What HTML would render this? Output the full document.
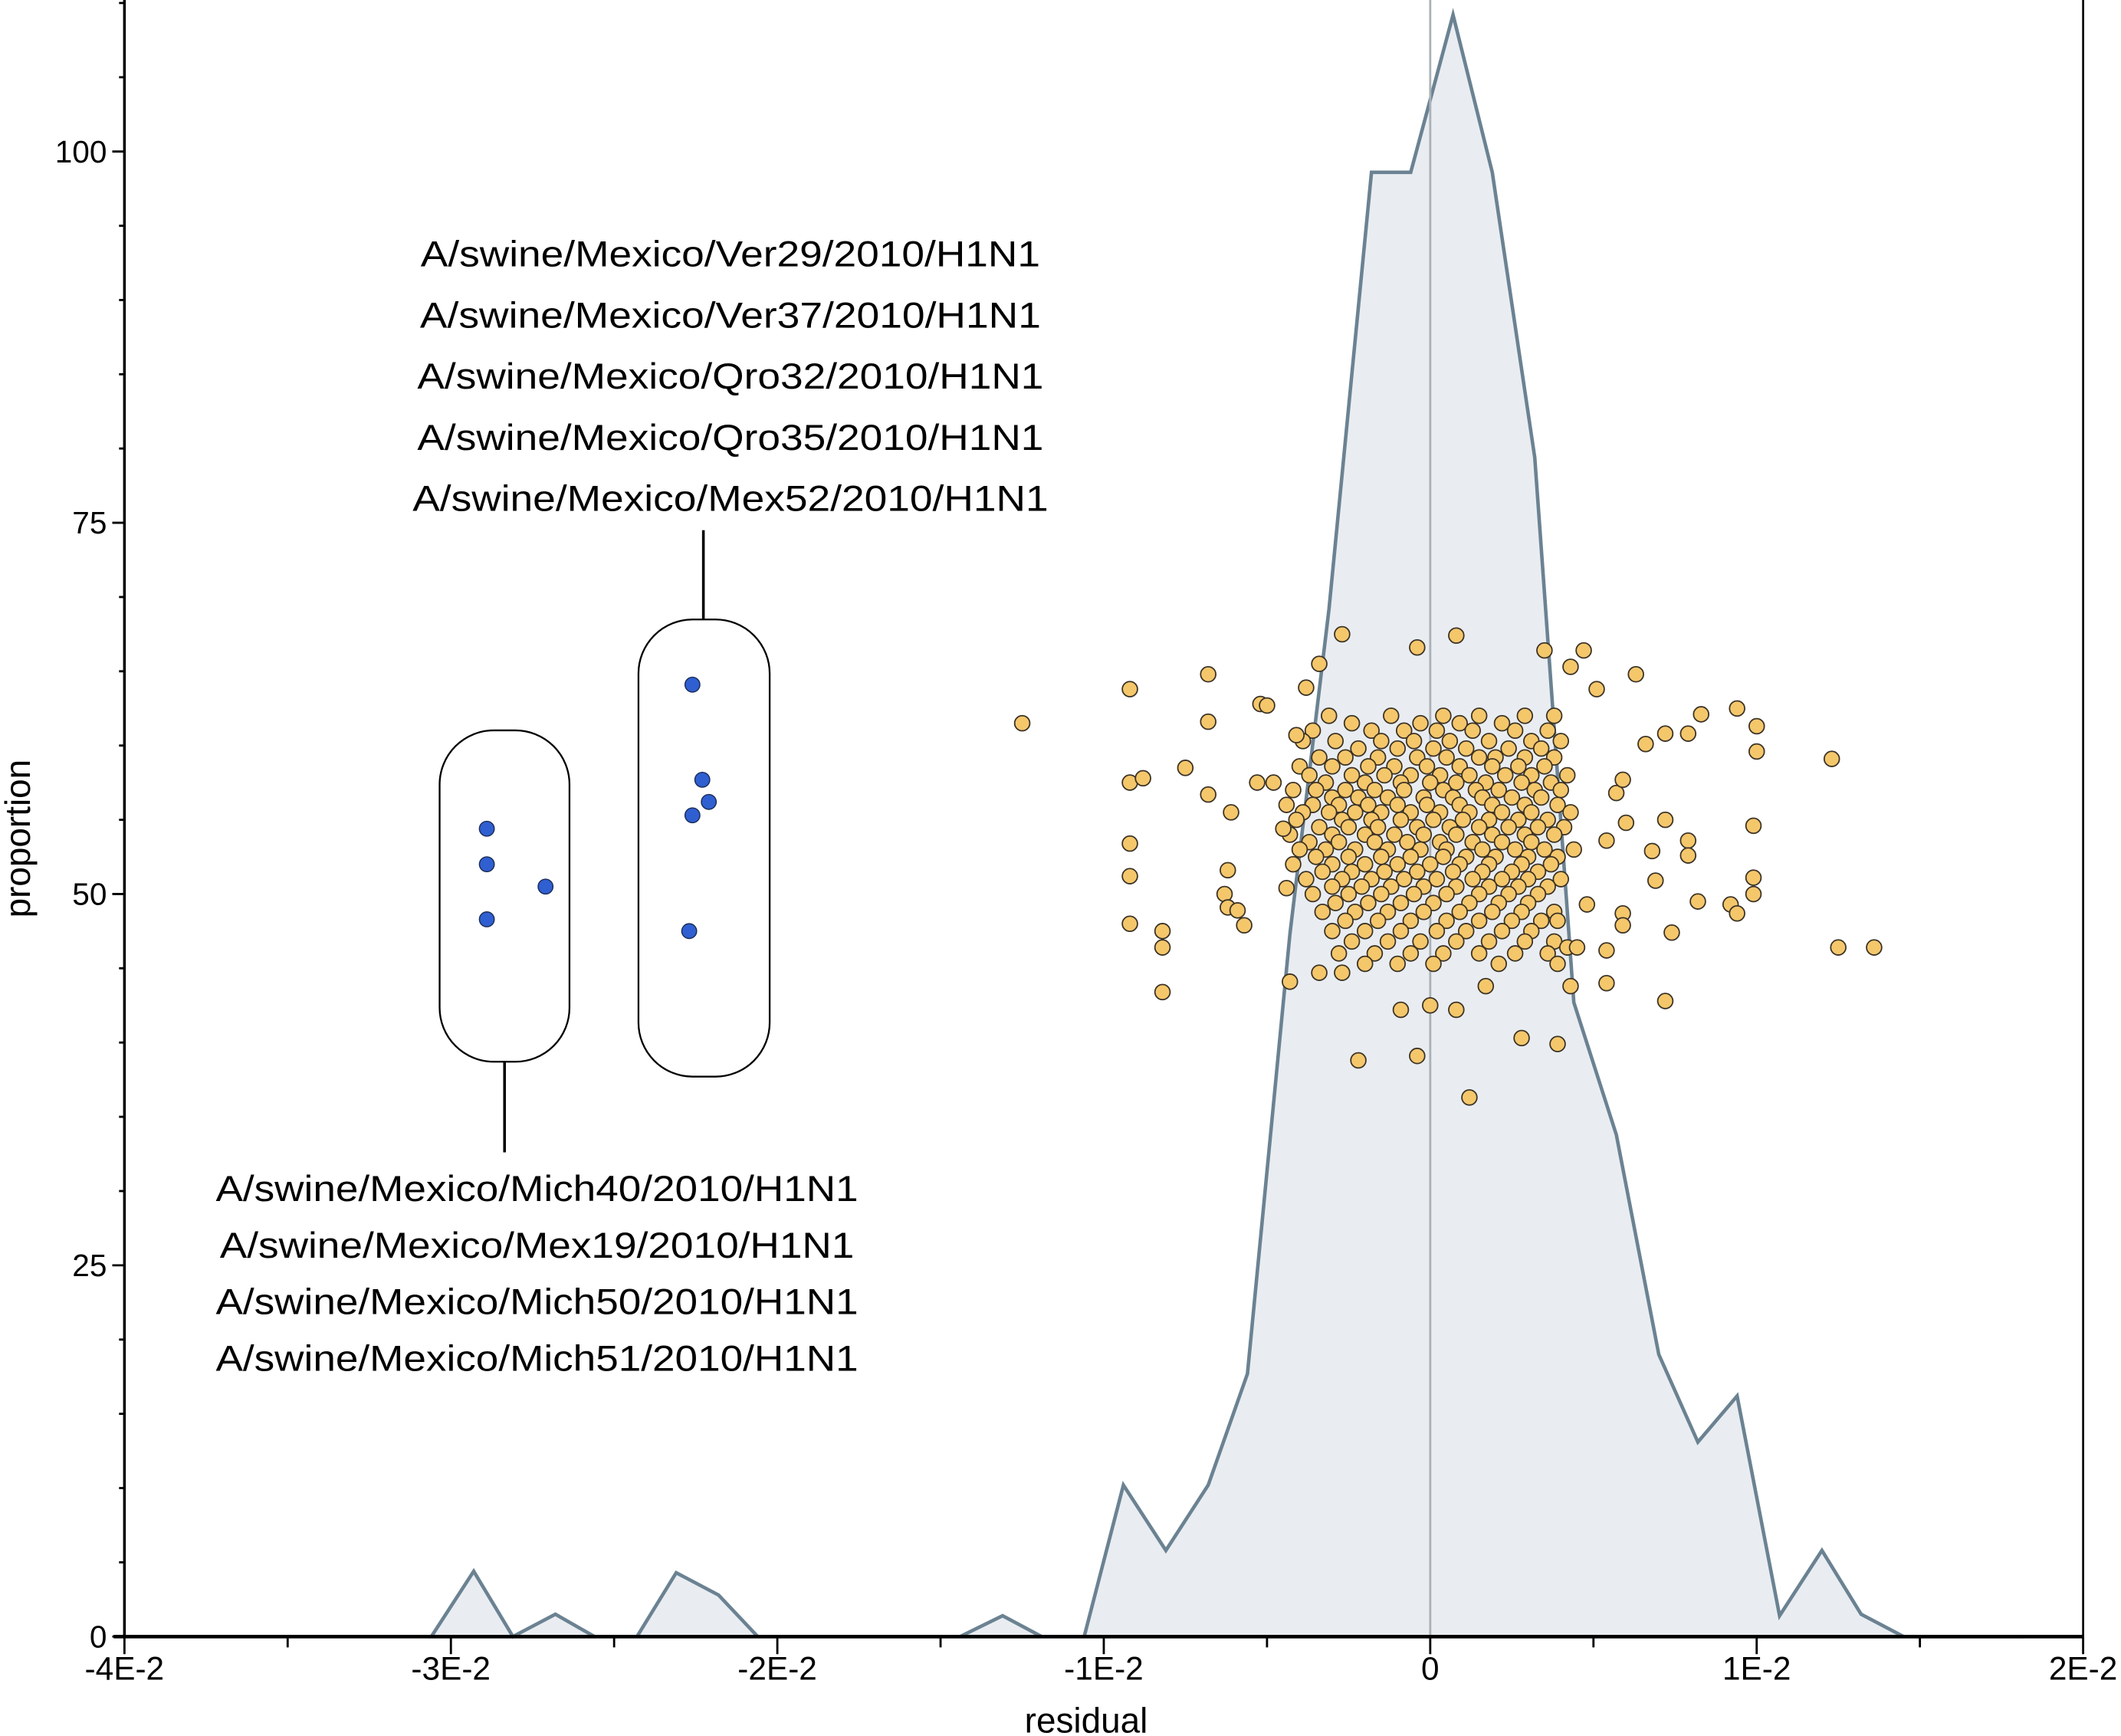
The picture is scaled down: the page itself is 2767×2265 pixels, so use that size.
<!DOCTYPE html>
<html><head><meta charset="utf-8"><style>
html,body{margin:0;padding:0;background:#fff}
svg{display:block}
text{font-family:"Liberation Sans",sans-serif;fill:#000}
</style></head><body>
<svg id="chart" width="2767" height="2265" viewBox="0 0 1568 1283.5" xmlns="http://www.w3.org/2000/svg">
<g id="hist"></g>
<line id="zero-line" stroke="#aab2b8" stroke-width="1.6"/>
<g id="scatter"></g>
<g id="annot"></g>
<g id="axes"></g>
</svg>
<script>
// histogram (x in units of 1E-3, y = proportion)
const histX = [-30.6,-29.3,-28.1,-26.8,-25.6,-24.3,-23.1,-21.8,-20.6,-14.4,-13.1,-11.9,-10.6,-9.4,-8.1,-6.8,-5.6,-4.3,-3.1,-1.8,-0.6,0.7,1.9,3.2,4.4,5.7,7.0,8.2,9.4,10.7,12.0,13.2,14.5,18.2];
const histY = [0,4.4,0,1.5,0,0,4.3,2.8,0,0,1.4,0,0,10.2,5.8,10.2,17.7,47.3,69.2,98.6,98.6,109.2,98.6,79.4,42.7,33.8,19.0,13.1,16.2,1.4,5.8,1.5,0,0];
// outlying scatter points
const outerX = [-12.5,-9.2,-9.2,-9.2,-9.2,-9.2,-8.8,-8.2,-8.2,-8.2,-7.5,-6.8,-6.8,-6.8,-6.1,-6.2,-6.3,-6.2,-5.9,-5.7,-5.2,-5.0,-5.3,-4.8,-4.5,-4.4,-4.1,-3.8,-3.4,-2.7,-0.4,0.8,3.5,4.7,4.3,5.1,6.3,6.6,7.2,7.9,8.3,9.4,10.0,10.0,12.3,12.5,13.6,9.9,9.9,9.9,9.2,9.4,8.2,7.4,7.2,6.0,5.4,5.7,5.9,7.2,7.9,7.9,6.8,6.9,5.9,5.9,5.4,5.4,4.3,4.2,3.9,2.8,3.9,1.2,-2.2,-0.4,-0.9,0.0,0.8,4.5,4.8,-3.4,-4.3,1.7,-2.7];
const outerY = [61.5,63.8,57.5,53.4,51.2,48.0,57.8,47.5,46.4,43.4,58.5,64.8,61.6,56.7,55.5,51.6,50.0,49.1,48.9,47.9,62.8,62.7,57.5,57.5,54.4,50.4,60.7,63.9,65.5,67.5,66.6,67.4,66.4,66.4,65.3,63.8,64.8,60.1,60.8,60.8,62.1,62.5,61.3,59.6,59.1,46.4,46.4,54.6,51.1,50.0,49.3,48.7,49.5,47.4,42.8,54.8,53.6,56.8,57.7,55.0,53.6,52.6,52.9,50.9,48.7,47.9,46.2,44.0,43.8,46.4,48.2,40.3,39.9,36.3,38.8,39.1,42.2,42.5,42.2,46.4,49.3,44.7,44.1,43.8,44.7];
// dense core, by row
const coreRowY = [62,61.5,61,60.3,59.8,59.2,58.6,58,57.5,57,56.5,56,55.5,55,54.5,54,53.5,53,52.5,52,51.5,51,50.5,50,49.4,48.8,48.2,47.5,46.8,46,45.3];
const coreRowX = [
[-3.1,-1.2,0.4,1.5,2.9,3.8],[-2.4,-0.3,0.9,2.2],[-3.6,-1.8,-0.8,0.2,1.3,2.6,3.6],[-3.9,-2.9,-1.5,-0.5,0.6,1.8,3.1,4.0],
[-2.2,-1.0,0.1,1.1,2.4,3.4],[-3.4,-2.6,-1.6,-0.4,0.5,1.5,2.0,2.9,3.8],[-4.0,-3.0,-1.9,-1.1,-0.1,0.9,1.9,2.7,3.5],
[-3.7,-2.4,-1.4,-0.6,0.3,1.2,2.3,3.1,4.2],[-3.2,-2.0,-0.9,0.0,0.8,1.7,2.8,3.7],[-4.2,-3.5,-2.6,-1.7,-0.8,0.4,1.4,2.1,3.2,4.0],
[-3.0,-2.2,-1.3,-0.2,0.7,1.6,2.5,3.4],[-4.4,-3.6,-2.8,-1.9,-1.0,-0.1,0.9,1.9,2.9,3.9],[-3.9,-3.1,-2.3,-1.5,-0.6,0.3,1.2,2.2,3.1,4.3],
[-4.1,-2.7,-1.8,-0.9,0.1,1.0,1.8,2.7,3.6],[-3.4,-2.5,-1.6,-0.4,0.6,1.5,2.4,3.3,4.1],[-4.3,-3.0,-2.0,-1.1,-0.2,0.8,1.9,2.9,3.8],
[-3.7,-2.8,-1.7,-0.7,0.3,1.3,2.2,3.1],[-4.0,-3.2,-2.3,-1.3,-0.3,0.5,1.6,2.6,3.5,4.4],[-3.5,-2.5,-1.5,-0.6,0.4,1.1,2.0,3.0,3.9],
[-4.2,-3.0,-2.0,-1.0,0.0,0.9,1.8,2.8,3.7],[-3.3,-2.4,-1.4,-0.4,0.7,1.6,2.5,3.3],[-3.8,-2.7,-1.8,-0.8,0.2,1.3,2.2,3.0,4.0],
[-3.0,-2.1,-1.2,-0.2,0.8,1.8,2.7,3.6],[-3.6,-2.5,-1.5,-0.5,0.5,1.5,2.4,3.3],[-2.9,-1.9,-0.9,0.1,1.2,2.1,3.0],
[-3.3,-2.3,-1.3,-0.2,0.9,1.9,2.8,3.8],[-2.6,-1.6,-0.6,0.5,1.5,2.5,3.4],[-3.0,-2.0,-0.9,0.2,1.1,2.2,3.1],
[-2.4,-1.3,-0.3,0.8,1.8,2.9,3.8],[-2.8,-1.7,-0.6,0.4,1.5,2.6,3.6],[-2.0,-1.0,0.1,2.1,3.9]];
// highlighted strains (blue)
const blueX = [-28.9,-28.9,-27.1,-28.9,-22.6,-22.3,-22.1,-22.6,-22.7];
const blueY = [54.4,52.0,50.5,48.3,64.1,57.7,56.2,55.3,47.5];
const xTickVals = [-40,-30,-20,-10,0,10,20];
const xTickLabels = ["-4E-2","-3E-2","-2E-2","-1E-2","0","1E-2","2E-2"];
const yTickVals = [0,25,50,75,100];
const groupTop = ["A/swine/Mexico/Ver29/2010/H1N1","A/swine/Mexico/Ver37/2010/H1N1","A/swine/Mexico/Qro32/2010/H1N1","A/swine/Mexico/Qro35/2010/H1N1","A/swine/Mexico/Mex52/2010/H1N1"];
const groupTopW = [458,459,463,463,470];
const groupBottom = ["A/swine/Mexico/Mich40/2010/H1N1","A/swine/Mexico/Mex19/2010/H1N1","A/swine/Mexico/Mich50/2010/H1N1","A/swine/Mexico/Mich51/2010/H1N1"];
const groupBottomW = [475,469,475,475];

const NS="http://www.w3.org/2000/svg";
const X0=92,X1=1540,Y0=1210,YT=0;
const xs=v=>X0+(v+40)/60*(X1-X0);
const ys=v=>Y0-v*10.98;
function mk(tag,attrs,parent){const e=document.createElementNS(NS,tag);for(const k in attrs)e.setAttribute(k,attrs[k]);parent.appendChild(e);return e;}

const hg=document.getElementById('hist');
let pts=histX.map((x,i)=>xs(x).toFixed(1)+','+ys(histY[i]).toFixed(1));
const hp=mk('polygon',{points:pts.join(' '),fill:'#e9edf1',stroke:'#6b8292','stroke-width':2.6,'stroke-linejoin':'miter'},hg);



const zl=document.getElementById('zero-line');
zl.setAttribute('x1',xs(0));zl.setAttribute('x2',xs(0));zl.setAttribute('y1',YT);zl.setAttribute('y2',Y0);

const sg=document.getElementById('scatter');
function dot(x,y){const c=mk('circle',{cx:xs(x).toFixed(1),cy:ys(y).toFixed(1),r:5.6,fill:'#f5c76b',stroke:'#3a3226','stroke-width':1},sg);

}
coreRowY.forEach((y,i)=>coreRowX[i].forEach(x=>dot(x,y)));
outerX.forEach((x,i)=>dot(x,outerY[i]));

const ag=document.getElementById('annot');
const b1=mk('rect',{x:325,y:540,width:96,height:245,rx:40,fill:'#fff',stroke:'#000','stroke-width':1.3},ag);


const b2=mk('rect',{x:472,y:458,width:97,height:338,rx:40,fill:'#fff',stroke:'#000','stroke-width':1.3},ag);


mk('line',{x1:520,y1:392,x2:520,y2:458,stroke:'#000','stroke-width':2},ag);
mk('line',{x1:373,y1:785,x2:373,y2:852,stroke:'#000','stroke-width':2},ag);
blueX.forEach((x,i)=>{const c=mk('circle',{cx:xs(x).toFixed(1),cy:ys(blueY[i]).toFixed(1),r:5.5,fill:'#2f5fd0',stroke:'#1a2a55','stroke-width':0.8},ag);

});
groupTop.forEach((s,i)=>{const t=mk('text',{x:540,y:197+i*45.2,'text-anchor':'middle','font-size':27,textLength:groupTopW[i],lengthAdjust:'spacingAndGlyphs'},ag);t.textContent=s;

});
groupBottom.forEach((s,i)=>{const t=mk('text',{x:397,y:888+i*41.8,'text-anchor':'middle','font-size':27,textLength:groupBottomW[i],lengthAdjust:'spacingAndGlyphs'},ag);t.textContent=s;

});

const ax=document.getElementById('axes');
mk('line',{x1:X0,y1:0,x2:X0,y2:Y0,stroke:'#000','stroke-width':2},ax);
mk('line',{x1:X1,y1:0,x2:X1,y2:Y0,stroke:'#000','stroke-width':1.5},ax);
mk('line',{x1:X0-8,y1:Y0,x2:X1,y2:Y0,stroke:'#000','stroke-width':2.6},ax);
for(let v=-40;v<=20;v+=5){const big=v%10===0;mk('line',{x1:xs(v),y1:Y0,x2:xs(v),y2:Y0+(big?13:8),stroke:'#000','stroke-width':1.6},ax);}
xTickVals.forEach((v,i)=>{const t=mk('text',{x:xs(v),y:1242,'text-anchor':'middle','font-size':24},ax);t.textContent=xTickLabels[i];

});
for(let v=0;v<=110;v+=5){const big=v%25===0;mk('line',{x1:X0-(big?9:4),y1:ys(v),x2:X0,y2:ys(v),stroke:'#000','stroke-width':1.6},ax);}
yTickVals.forEach(v=>{const t=mk('text',{x:X0-13,y:ys(v)+8,'text-anchor':'end','font-size':23},ax);t.textContent=String(v);

});
const xt=mk('text',{x:803,y:1281,'text-anchor':'middle','font-size':26},ax);xt.textContent='residual';


const yt=mk('text',{x:22,y:620,'text-anchor':'middle','font-size':26,transform:'rotate(-90 22 620)'},ax);yt.textContent='proportion';


</script>
</body></html>
